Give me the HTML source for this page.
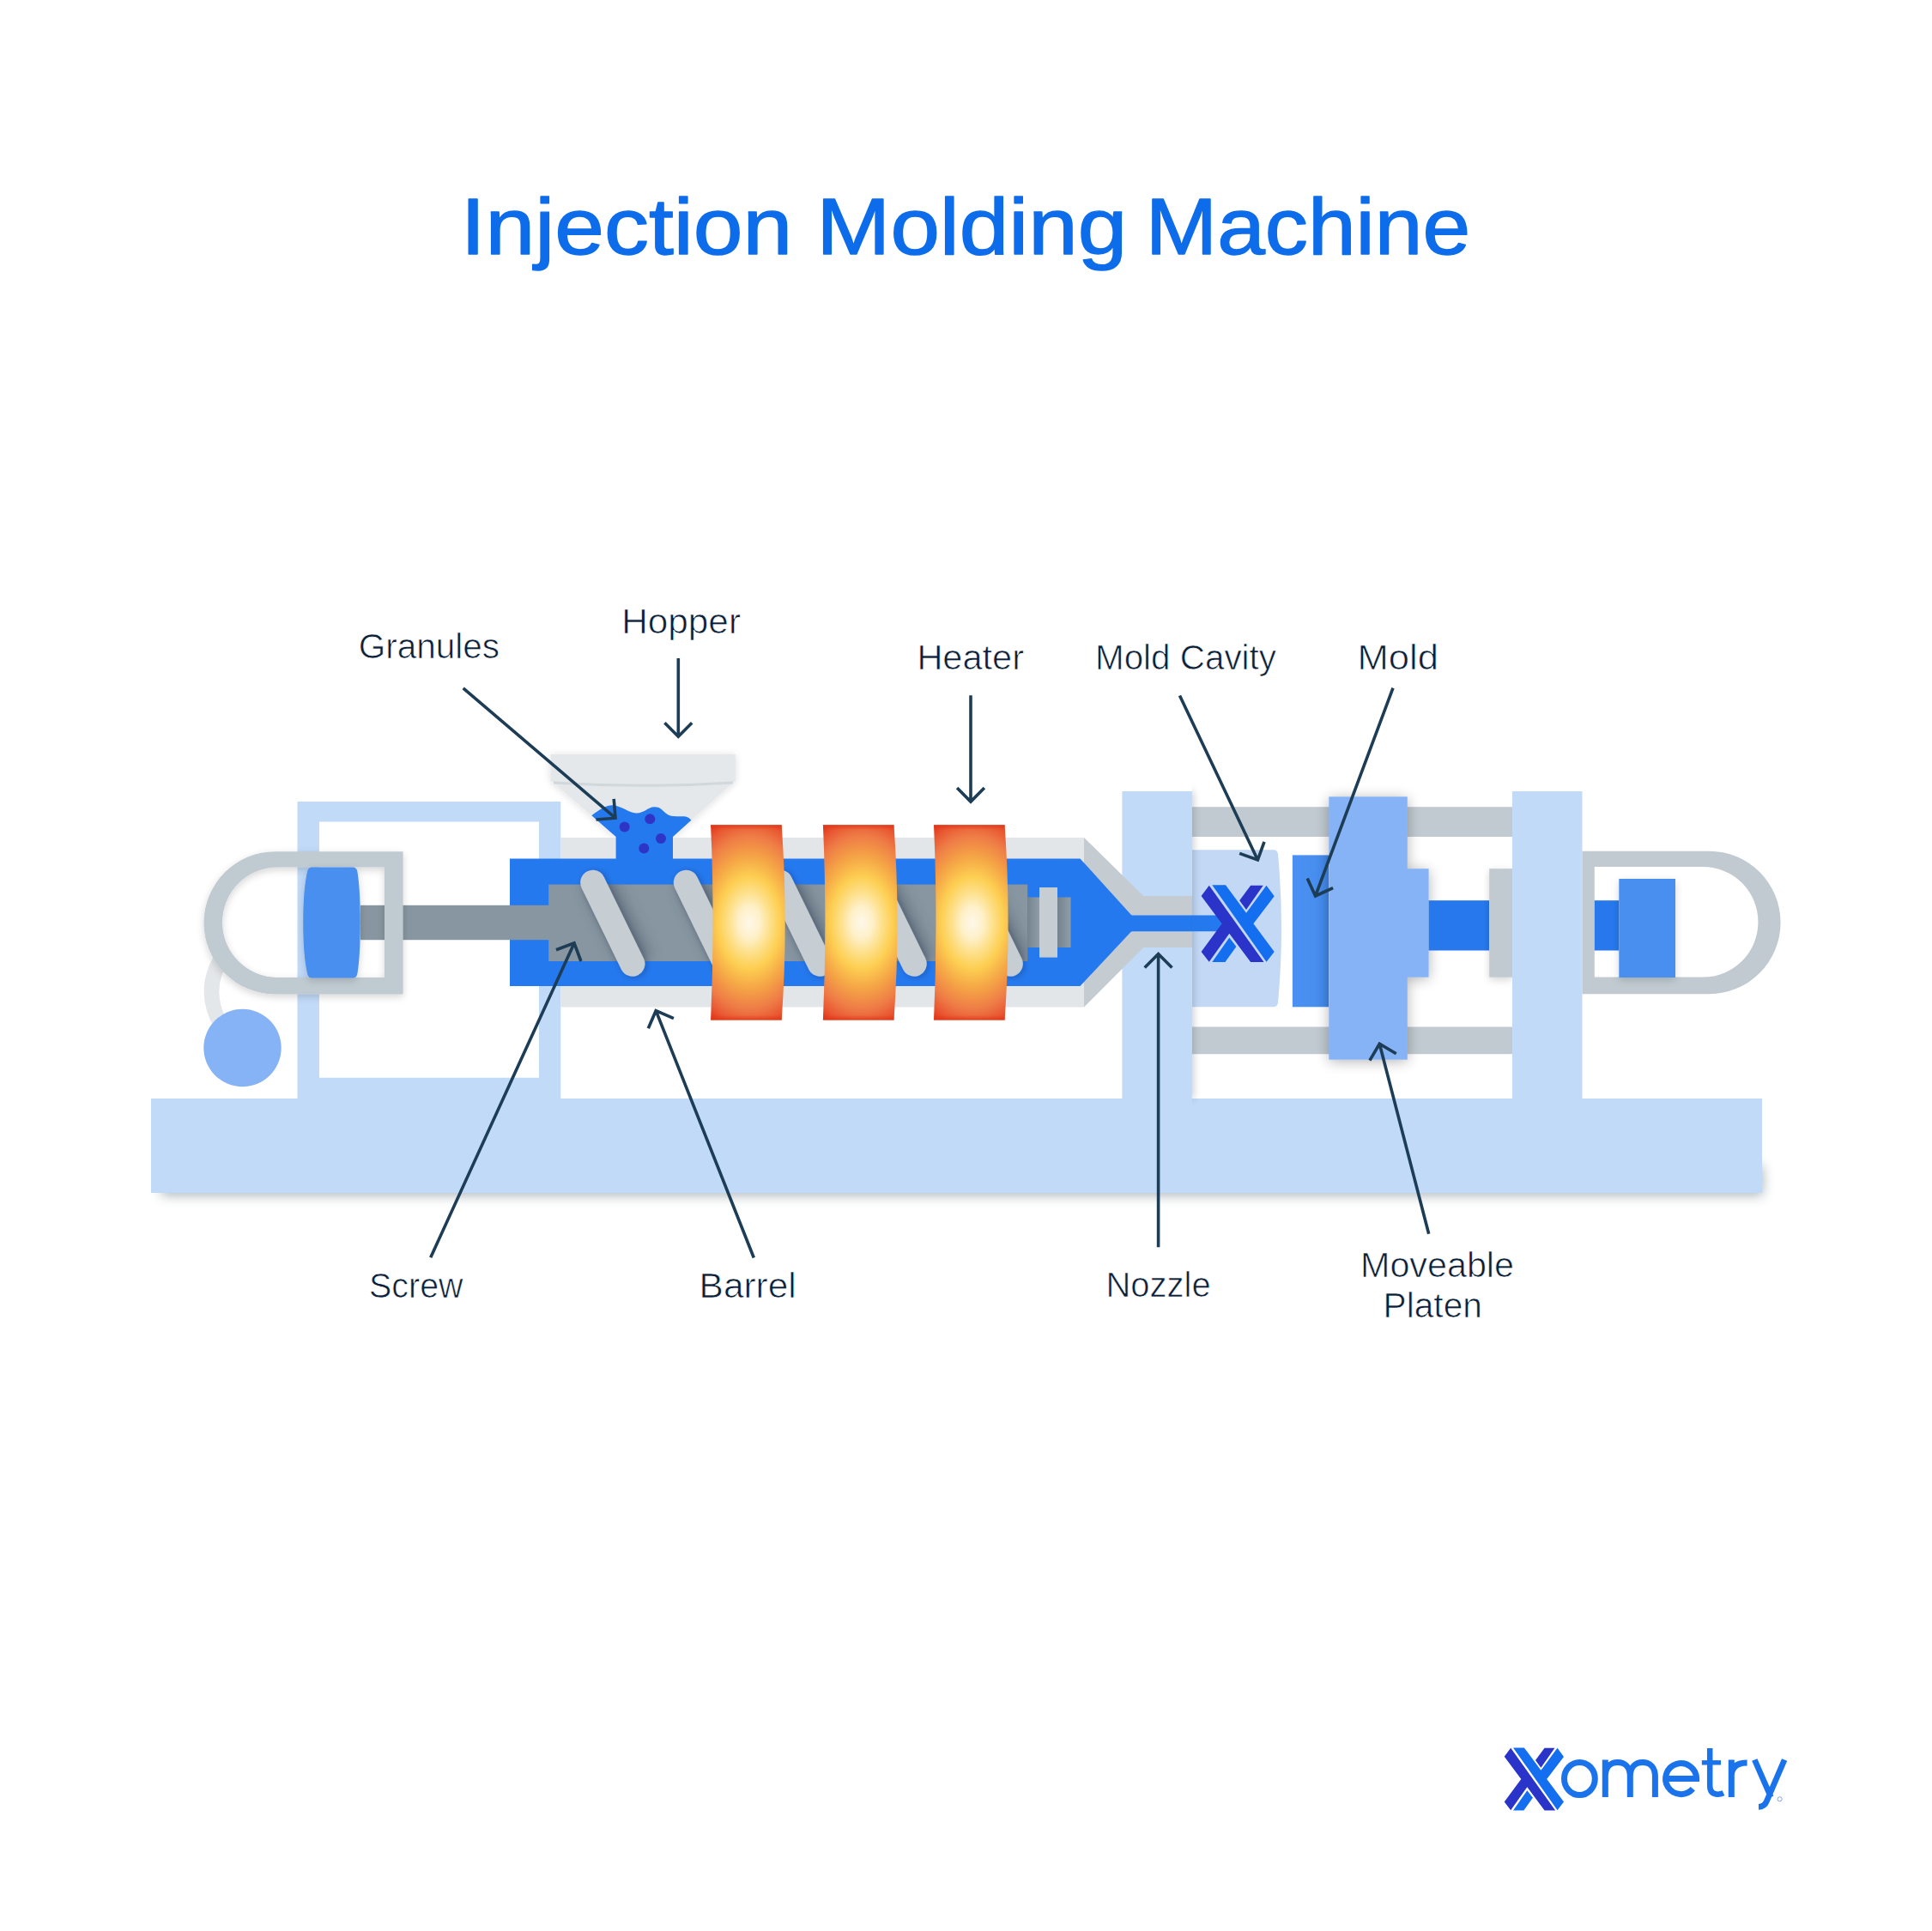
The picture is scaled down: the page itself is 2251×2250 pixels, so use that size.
<!DOCTYPE html>
<html>
<head>
<meta charset="utf-8">
<style>
html,body{margin:0;padding:0;background:#fff;}
body{width:2251px;height:2250px;overflow:hidden;}
svg{display:block;}
text{font-family:"Liberation Sans",sans-serif;}
</style>
</head>
<body>
<svg width="2251" height="2250" viewBox="0 0 2251 2250">
<defs>
  <filter id="sh" x="-20%" y="-20%" width="140%" height="140%">
    <feGaussianBlur in="SourceAlpha" stdDeviation="5"/>
    <feOffset dx="0" dy="3" result="b"/>
    <feComponentTransfer><feFuncA type="linear" slope="0.17"/></feComponentTransfer>
    <feMerge><feMergeNode/><feMergeNode in="SourceGraphic"/></feMerge>
  </filter>
  <filter id="baseSh" x="-5%" y="-30%" width="110%" height="170%">
    <feGaussianBlur in="SourceAlpha" stdDeviation="7"/>
    <feOffset dx="5" dy="10" result="b"/>
    <feFlood flood-color="#50606c" flood-opacity="0.3"/>
    <feComposite in2="b" operator="in"/>
    <feMerge><feMergeNode/><feMergeNode in="SourceGraphic"/></feMerge>
  </filter>
  <radialGradient id="heat" gradientUnits="objectBoundingBox" cx="0.52" cy="0.5" r="0.5" gradientTransform="translate(0.52 0.5) scale(2.0 1.12) translate(-0.52 -0.5)">
    <stop offset="0" stop-color="#fef8ea"/>
    <stop offset="0.15" stop-color="#fef0c8"/>
    <stop offset="0.28" stop-color="#fde08a"/>
    <stop offset="0.42" stop-color="#fdcf52"/>
    <stop offset="0.6" stop-color="#f5a646"/>
    <stop offset="0.8" stop-color="#ee7a46"/>
    <stop offset="0.93" stop-color="#e85530"/>
    <stop offset="1" stop-color="#e33a1c"/>
  </radialGradient>
  <linearGradient id="heatedge" x1="0" x2="0" y1="0" y2="1">
    <stop offset="0" stop-color="#e2381a" stop-opacity="0.85"/><stop offset="0.025" stop-color="#e2381a" stop-opacity="0"/>
    <stop offset="0.975" stop-color="#e2381a" stop-opacity="0"/><stop offset="1" stop-color="#e2381a" stop-opacity="0.85"/>
  </linearGradient>
  <linearGradient id="conng" x1="0" x2="1" y1="0" y2="0">
    <stop offset="0" stop-color="#74838e"/><stop offset="1" stop-color="#8f9da7"/>
  </linearGradient>
  <filter id="shl" x="-20%" y="-40%" width="140%" height="180%">
    <feGaussianBlur in="SourceAlpha" stdDeviation="5"/>
    <feOffset dx="0" dy="1" result="b"/>
    <feComponentTransfer><feFuncA type="linear" slope="0.14"/></feComponentTransfer>
    <feMerge><feMergeNode/><feMergeNode in="SourceGraphic"/></feMerge>
  </filter>
  <filter id="flsh" x="-30%" y="-20%" width="160%" height="140%">
    <feGaussianBlur in="SourceAlpha" stdDeviation="3.5"/>
    <feOffset dx="2" dy="1" result="b"/>
    <feFlood flood-color="#102040" flood-opacity="0.28"/>
    <feComposite in2="b" operator="in"/>
    <feMerge><feMergeNode/><feMergeNode in="SourceGraphic"/></feMerge>
  </filter>
  <filter id="blur7" x="-5%" y="-50%" width="110%" height="200%"><feGaussianBlur stdDeviation="7"/></filter>
  <clipPath id="rightof"><rect x="1388.8" y="900" width="200" height="400"/></clipPath>
  <filter id="blur5" x="-200%" y="-10%" width="500%" height="120%"><feGaussianBlur stdDeviation="5"/></filter>
  <filter id="sh2" x="-30%" y="-20%" width="160%" height="140%">
    <feGaussianBlur in="SourceAlpha" stdDeviation="8"/>
    <feOffset dx="0" dy="2" result="b"/>
    <feComponentTransfer><feFuncA type="linear" slope="0.3"/></feComponentTransfer>
    <feMerge><feMergeNode/><feMergeNode in="SourceGraphic"/></feMerge>
  </filter>
  <linearGradient id="moldg" x1="0" x2="1" y1="0" y2="0">
    <stop offset="0" stop-color="#4b91f3"/><stop offset="0.65" stop-color="#488eef"/><stop offset="1" stop-color="#4088ea"/>
  </linearGradient>
  <clipPath id="bodyclip"><rect x="639.2" y="1030.6" width="558" height="89.4"/></clipPath>
  <filter id="fsh" x="-50%" y="-50%" width="200%" height="200%"><feGaussianBlur stdDeviation="7"/></filter>
  <g id="xlogo">
    <polygon fill="#2a34c8" points="345,150 1525,1795 1240,1795 780,1180 345,1790 175,1570 620,970 175,375"/>
    <polygon fill="#146ef0" points="410,140 700,140 1145,740 1580,150 1750,380 1300,970 1750,1570 1580,1790"/>
    <polygon fill="#2a34c8" points="1000,470 1240,150 1510,150 1145,670"/>
    <polygon fill="#146ef0" points="410,1795 690,1795 930,1460 780,1270"/>
  </g>
</defs>

<!-- Title -->
<g font-size="92.8" fill="#0d6cea" stroke="#0d6cea" stroke-width="1.4" stroke-linejoin="round">
<text x="536.8" y="296" textLength="386.4" lengthAdjust="spacingAndGlyphs">Injection</text>
<text x="951.3" y="296" textLength="361.9" lengthAdjust="spacingAndGlyphs">Molding</text>
<text x="1334.8" y="296" textLength="378.4" lengthAdjust="spacingAndGlyphs">Machine</text>
</g>

<!-- ===== MACHINE ===== -->
<!-- base -->
<rect x="188" y="1358" width="1866" height="35" fill="#4e5e6a" opacity="0.45" filter="url(#blur7)"/>
<rect x="176" y="1280" width="1877" height="110" fill="#c1daf8"/>

<!-- left frame -->
<path d="M346.5 934 H653.3 V1280 H346.5 Z M372 957.6 V1255.8 H628 V957.6 Z" fill="#c1daf8" fill-rule="evenodd"/>

<!-- tube -->
<path d="M262 1110 Q233 1152 258 1195" fill="none" stroke="#e4e7ea" stroke-width="17.5"/>

<!-- rod left -->
<rect x="420" y="1054.8" width="230" height="40.4" fill="#8796a0"/>

<!-- left loop -->
<path d="M469.6 992.2 H320.6 A83.1 83.1 0 0 0 320.6 1158.4 H469.6 Z M448 1010.4 H323.3 A64.25 64.25 0 0 0 323.3 1138.9 H448 Z" fill="#c0cad1" fill-rule="evenodd" filter="url(#sh)"/>

<!-- piston left -->
<path d="M363.5 1010.4 H411 C414 1010.4 415.5 1012 416.3 1015 C418.8 1030 419.8 1050 419.8 1075 C419.8 1100 418.8 1120 416.3 1135 C415.5 1138 414 1139.6 411 1139.6 H363.5 C360.5 1139.6 359 1138 358.2 1135 C354.7 1120 353.2 1100 353.2 1075 C353.2 1050 354.7 1030 358.2 1015 C359 1012 360.5 1010.4 363.5 1010.4 Z" fill="#4a8ff0" filter="url(#sh)"/>

<!-- circle -->
<circle cx="282.5" cy="1221" r="45.2" fill="#86b3f5"/>

<!-- hopper -->
<g filter="url(#shl)">
<path d="M641.5 879 H856.8 V911 H641.5 Z" fill="#e4e8eb"/>
<path d="M643.5 911 H855.3 L784 975 H717.6 Z" fill="#e4e8eb"/>
</g>
<path d="M645 912 Q749 918.5 854 912" fill="none" stroke="#ccd3d8" stroke-width="3" opacity="0.8"/>

<!-- housing -->
<rect x="653.3" y="976" width="610" height="197.5" fill="#e3e6e9"/>

<!-- stationary platen -->
<rect x="1307.4" y="922" width="81.4" height="358" fill="#c1daf8"/>

<!-- nozzle cone -->
<path d="M1263 976 L1332.3 1044 H1388.8 V1104 H1332.3 L1263 1173.5 Z" fill="#c4ccd2"/>

<!-- blue barrel -->
<path d="M594 1000.4 H1258.5 L1317.5 1065.5 Q1318.2 1066.4 1319.5 1066.4 H1425 V1085.2 H1319.5 Q1318.2 1085.2 1317.5 1086.1 L1258.5 1149 H594 Z" fill="#2579ee"/>

<!-- granules -->
<path d="M689.3 950.2 C700 942 708 937.5 715 938.3 C724 939.5 733 947 741 947.5 C750 948 755 940.5 762 940.3 C766 940.2 768 941 770 942.5 C774 946 777 949.5 782 950.8 C787 951.8 796 950.5 800 951.8 C802 952.5 804 954 805.3 955.7 L784 975 V1001 H717.6 V975 Z" fill="#2579ee"/>
<g fill="#2e34c6">
<circle cx="727.7" cy="963.6" r="6"/>
<circle cx="757.3" cy="954.2" r="6"/>
<circle cx="770" cy="977" r="6"/>
<circle cx="750.3" cy="988.5" r="6"/>
</g>

<!-- rod over barrel -->
<rect x="594" y="1054.8" width="50" height="40.4" fill="#8796a0"/>

<!-- screw body -->
<rect x="639.2" y="1030.6" width="558" height="89.4" fill="#8796a1"/>
<rect x="1197" y="1045.5" width="14" height="58.5" fill="url(#conng)"/>
<rect x="1211" y="1034" width="21" height="81.6" fill="#c6ced4"/>
<rect x="1232" y="1045.5" width="15.5" height="58.5" fill="url(#conng)"/>

<!-- flights -->
<g clip-path="url(#bodyclip)" filter="url(#fsh)">
<line x1="696.7" y1="1028.3" x2="742.9" y2="1123.1" stroke="#4a5866" stroke-width="40" stroke-opacity="0.42"/>
<line x1="805.3" y1="1028.3" x2="851.5" y2="1123.1" stroke="#4a5866" stroke-width="40" stroke-opacity="0.42"/>
<line x1="915.1" y1="1028.3" x2="961.3" y2="1123.1" stroke="#4a5866" stroke-width="40" stroke-opacity="0.42"/>
<line x1="1025.0" y1="1028.3" x2="1071.2" y2="1123.1" stroke="#4a5866" stroke-width="40" stroke-opacity="0.42"/>
<line x1="1137.1" y1="1028.3" x2="1183.3" y2="1123.1" stroke="#4a5866" stroke-width="40" stroke-opacity="0.42"/>
</g>
<g stroke="#c6ced4" stroke-width="29" stroke-linecap="round" filter="url(#flsh)">
<line x1="690.7" y1="1028.3" x2="736.9" y2="1123.1"/>
<line x1="799.3" y1="1028.3" x2="845.5" y2="1123.1"/>
<line x1="909.1" y1="1028.3" x2="955.3" y2="1123.1"/>
<line x1="1019.0" y1="1028.3" x2="1065.2" y2="1123.1"/>
<line x1="1131.1" y1="1028.3" x2="1177.3" y2="1123.1"/>
</g>

<!-- heaters -->
<path d="M828.1 961.2 H910.7 Q918.7 1074.9 910.7 1188.6 H828.1 Q833.1 1074.9 828.1 961.2 Z" fill="url(#heat)"/>
<path d="M828.1 961.2 H910.7 Q918.7 1074.9 910.7 1188.6 H828.1 Q833.1 1074.9 828.1 961.2 Z" fill="url(#heatedge)"/>
<path d="M958.9 961.2 H1041.5 Q1049.5 1074.9 1041.5 1188.6 H958.9 Q963.9 1074.9 958.9 961.2 Z" fill="url(#heat)"/>
<path d="M958.9 961.2 H1041.5 Q1049.5 1074.9 1041.5 1188.6 H958.9 Q963.9 1074.9 958.9 961.2 Z" fill="url(#heatedge)"/>
<path d="M1088.0 961.2 H1170.6 Q1178.6 1074.9 1170.6 1188.6 H1088.0 Q1093.0 1074.9 1088.0 961.2 Z" fill="url(#heat)"/>
<path d="M1088.0 961.2 H1170.6 Q1178.6 1074.9 1170.6 1188.6 H1088.0 Q1093.0 1074.9 1088.0 961.2 Z" fill="url(#heatedge)"/>

<!-- tie bars -->
<rect x="1388.8" y="940.2" width="373.2" height="34.8" fill="#c0cad0"/>
<rect x="1388.8" y="1196.5" width="373.2" height="31.7" fill="#c0cad0"/>

<!-- mold cavity -->
<path d="M1389 990.2 H1484 Q1488 990.2 1489 995 Q1497 1081.75 1489 1168.5 Q1488 1173.3 1484 1173.3 H1389 Z" fill="#c2d8f5"/>
<g clip-path="url(#rightof)"><rect x="1381" y="922" width="9" height="358" fill="#3a4a58" opacity="0.32" filter="url(#blur5)"/></g>
<!-- channel into cavity -->
<rect x="1389" y="1066.5" width="40" height="18.7" fill="#2579ee"/>
<use href="#xlogo" transform="translate(1399.6 1031.2) scale(0.05403 0.05432) translate(-175 -140)"/>

<!-- mold -->
<rect x="1505.9" y="996.4" width="42.3" height="176.9" fill="url(#moldg)"/>

<!-- moving platen -->
<g filter="url(#sh2)">
<rect x="1548.3" y="928.3" width="91.5" height="306.4" fill="#86b3f5"/>
<rect x="1639" y="1012.2" width="25.6" height="126.5" fill="#86b3f5"/>
</g>

<!-- clamp ram -->
<rect x="1664.6" y="1049.2" width="70.6" height="58.3" fill="#2678ec"/>
<rect x="1735.2" y="1012.2" width="26.8" height="126.5" fill="#c0cad0" filter="url(#sh)"/>

<!-- rear platen -->
<rect x="1762" y="922" width="81.5" height="358" fill="#c1daf8"/>

<!-- right loop -->
<path d="M1843.5 991.7 H1991.3 A83.25 83.25 0 0 1 1991.3 1158.2 H1843.5 Z M1857.8 1010 H1984.2 A64.3 64.3 0 0 1 1984.2 1138.6 H1857.8 Z" fill="#c0cad0" fill-rule="evenodd"/>
<rect x="1857.8" y="1049.2" width="28.5" height="58.3" fill="#2678ec"/>
<rect x="1886.3" y="1024" width="65.7" height="115" fill="#4a8ff0" filter="url(#sh)"/>

<!-- ===== ARROWS ===== -->
<g stroke="#1d3d56" stroke-width="3.6" fill="none" stroke-linecap="butt" stroke-linejoin="miter">
<path d="M539.7 801.8 L717.0 953.2 M715.2 930.8 L717.0 953.2 L694.5 955.0"/>
<path d="M790.3 767.1 L790.3 858.3 M806.2 842.3 L790.3 858.3 L774.4 842.3"/>
<path d="M1131.0 810.3 L1131.0 934.1 M1146.9 918.1 L1131.0 934.1 L1115.1 918.1"/>
<path d="M1374.5 810.4 L1465.4 1002.0 M1473.0 980.8 L1465.4 1002.0 L1444.2 994.4"/>
<path d="M1623.0 801.7 L1532.6 1044.0 M1553.1 1034.7 L1532.6 1044.0 L1523.2 1023.5"/>
<path d="M501.7 1465.3 L669.0 1098.9 M648.0 1106.8 L669.0 1098.9 L676.9 1120.0"/>
<path d="M878.3 1465.5 L764.2 1177.7 M755.3 1198.3 L764.2 1177.7 L784.9 1186.6"/>
<path d="M1349.6 1453.3 L1349.6 1111.5 M1333.7 1127.5 L1349.6 1111.5 L1365.5 1127.5"/>
<path d="M1664.7 1437.8 L1607.3 1216.3 M1595.9 1235.7 L1607.3 1216.3 L1626.7 1227.7"/>
</g>

<!-- ===== LABELS ===== -->
<g fill="#0c1f38" font-size="40.5" stroke="#fff" stroke-width="0.7">
<text x="417.8" y="766.8" textLength="164.3" lengthAdjust="spacingAndGlyphs">Granules</text>
<text x="724.2" y="738.4" textLength="138.8" lengthAdjust="spacingAndGlyphs">Hopper</text>
<text x="1068.4" y="780.3" textLength="124.6" lengthAdjust="spacingAndGlyphs">Heater</text>
<text x="1276" y="780" textLength="211" lengthAdjust="spacingAndGlyphs">Mold Cavity</text>
<text x="1581.5" y="780" textLength="94.5" lengthAdjust="spacingAndGlyphs">Mold</text>
<text x="430.1" y="1511.5" textLength="109.4" lengthAdjust="spacingAndGlyphs">Screw</text>
<text x="814.6" y="1511.5" textLength="113.2" lengthAdjust="spacingAndGlyphs">Barrel</text>
<text x="1288.5" y="1511.3" textLength="122.1" lengthAdjust="spacingAndGlyphs">Nozzle</text>
<text x="1585" y="1487.9" textLength="179" lengthAdjust="spacingAndGlyphs">Moveable</text>
<text x="1611.6" y="1534.8" textLength="115.3" lengthAdjust="spacingAndGlyphs">Platen</text>
</g>

<!-- ===== LOGO ===== -->
<use href="#xlogo" transform="translate(1752.7 2036.4) scale(0.04400 0.04411) translate(-175 -140)"/>
<g fill="none" stroke="#1a73eb" stroke-width="7">
<ellipse cx="1840.4" cy="2072.5" rx="17.9" ry="19.1"/>
<path d="M1870.3 2094 V2050.5 M1870.3 2070 C1870.3 2059 1876.5 2053.6 1884.8 2053.6 C1893.1 2053.6 1899.3 2059 1899.3 2070 V2094 M1899.3 2070 C1899.3 2059 1905.5 2053.6 1913.8 2053.6 C1922.1 2053.6 1928.4 2059 1928.4 2070 V2094"/>
<path d="M1940.8 2072.6 H1976.6 A18 18 0 1 0 1972.3 2084.3"/>
<path d="M1992.2 2037 V2080.5 Q1992.2 2090.7 2001.5 2090.7 Q2005 2090.7 2008 2089.3" stroke-width="6.5"/>
<path d="M1982.8 2053.8 H2005" stroke-width="5.4"/>
<path d="M2017.3 2094 V2050.5 M2017.3 2068 Q2018.5 2054 2035.6 2054"/>
<path d="M2044.3 2050.5 L2063.3 2094 M2079.1 2050.5 L2058.5 2098.5 Q2055.8 2105.3 2049 2105.3" stroke-width="6.8"/>
</g>
<circle cx="2073.6" cy="2096.3" r="2.6" fill="none" stroke="#7aa7ee" stroke-width="1"/>
</svg>
</body>
</html>
